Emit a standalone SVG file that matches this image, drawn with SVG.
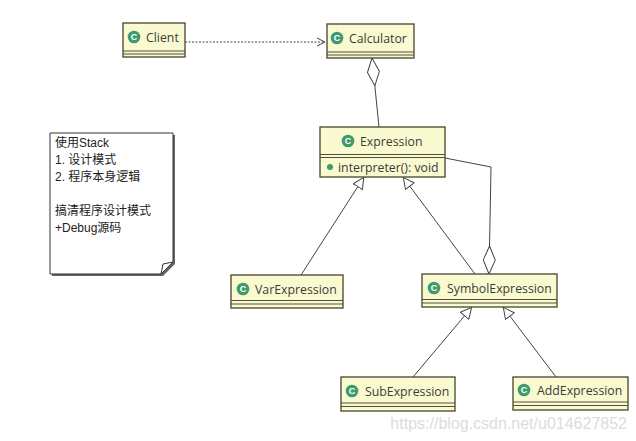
<svg xmlns="http://www.w3.org/2000/svg" width="636" height="441" viewBox="0 0 636 441">
<style>
.box{fill:#fafad0;stroke:#55503a;stroke-width:1.4}
.sep{stroke:#55503a;stroke-width:1.1}
.lbl{font-family:"Open Sans","Liberation Sans",sans-serif;font-size:12.3px;fill:#3a3a3a}
.ic{fill:#3f9a6c}
.icl{font-family:"Liberation Sans",sans-serif;font-size:9px;font-weight:bold;fill:#fff}
.ln{fill:none;stroke:#444;stroke-width:1}
.note{font-family:"Liberation Sans","Noto Sans CJK SC",sans-serif;font-size:12px;fill:#222}
</style>
<defs>
<marker id="tri" markerUnits="userSpaceOnUse" viewBox="0 0 12 12" refX="12" refY="6" markerWidth="12" markerHeight="12" orient="auto">
<path d="M0.5,0.5 L11.5,6 L0.5,11.5 z" fill="#fff" stroke="#444" stroke-width="1"/>
</marker>
<marker id="dia" markerUnits="userSpaceOnUse" viewBox="0 0 29 13" refX="28.5" refY="6.5" markerWidth="29" markerHeight="13" orient="auto">
<path d="M0.5,6.5 L14.5,0.5 L28.5,6.5 L14.5,12.5 z" fill="#fff" stroke="#444" stroke-width="1"/>
</marker>
<marker id="open" markerUnits="userSpaceOnUse" viewBox="0 0 10 10" refX="9" refY="5" markerWidth="10" markerHeight="10" orient="auto">
<path d="M1,1 L9,5 L1,9" fill="none" stroke="#444" stroke-width="1"/>
</marker>
</defs>
<g id="connectors">
<path class="ln" d="M185,42 L325,42" stroke-dasharray="2,1.5" marker-end="url(#open)"/>
<path class="ln" d="M379,127 L372,58" marker-end="url(#dia)"/>
<path class="ln" d="M301,275 L364,177" marker-end="url(#tri)"/>
<path class="ln" d="M475,274 L403,177" marker-end="url(#tri)"/>
<path class="ln" d="M445,158 L491,167 L489,274" marker-end="url(#dia)"/>
<path class="ln" d="M413,377 L472,307" marker-end="url(#tri)"/>
<path class="ln" d="M556,377 L503,307" marker-end="url(#tri)"/>
</g>
<g id="client">
<rect class="box" x="123" y="23" width="62" height="34"/>
<line class="sep" x1="123" y1="51" x2="185" y2="51"/>
<line class="sep" x1="123" y1="54" x2="185" y2="54"/>
<circle class="ic" cx="134" cy="37" r="6.3"/><text class="icl" x="134" y="40.2" text-anchor="middle">C</text>
<text class="lbl" x="146" y="41.5">Client</text>
</g>
<g id="calculator">
<rect class="box" x="327" y="24" width="87" height="34"/>
<line class="sep" x1="327" y1="52" x2="414" y2="52"/>
<line class="sep" x1="327" y1="55" x2="414" y2="55"/>
<circle class="ic" cx="337" cy="38" r="6.3"/><text class="icl" x="337" y="41.2" text-anchor="middle">C</text>
<text class="lbl" x="349" y="42.5">Calculator</text>
</g>
<g id="expression">
<rect class="box" x="320" y="127" width="125" height="50"/>
<line class="sep" x1="320" y1="154.5" x2="445" y2="154.5"/>
<line class="sep" x1="320" y1="157.5" x2="445" y2="157.5"/>
<circle class="ic" cx="348" cy="141" r="6.3"/><text class="icl" x="348" y="144.2" text-anchor="middle">C</text>
<text class="lbl" x="360" y="145.5">Expression</text>
<circle class="ic" cx="330" cy="167" r="3"/>
<text class="lbl" x="338" y="171.5">interpreter(): void</text>
</g>
<g id="varexpression">
<rect class="box" x="231" y="275" width="112" height="33"/>
<line class="sep" x1="231" y1="300.5" x2="343" y2="300.5"/>
<line class="sep" x1="231" y1="304" x2="343" y2="304"/>
<circle class="ic" cx="243" cy="289" r="6.3"/><text class="icl" x="243" y="292.2" text-anchor="middle">C</text>
<text class="lbl" x="255" y="293.5">VarExpression</text>
</g>
<g id="symbolexpression">
<rect class="box" x="422" y="274" width="135" height="33"/>
<line class="sep" x1="422" y1="299.5" x2="557" y2="299.5"/>
<line class="sep" x1="422" y1="303" x2="557" y2="303"/>
<circle class="ic" cx="434" cy="288" r="6.3"/><text class="icl" x="434" y="291.2" text-anchor="middle">C</text>
<text class="lbl" x="447" y="292.5">SymbolExpression</text>
</g>
<g id="subexpression">
<rect class="box" x="341" y="377" width="114" height="34"/>
<line class="sep" x1="341" y1="403" x2="455" y2="403"/>
<line class="sep" x1="341" y1="406.5" x2="455" y2="406.5"/>
<circle class="ic" cx="352" cy="391" r="6.3"/><text class="icl" x="352" y="394.2" text-anchor="middle">C</text>
<text class="lbl" x="365" y="395.5">SubExpression</text>
</g>
<g id="addexpression">
<rect class="box" x="513" y="377" width="115" height="33"/>
<line class="sep" x1="513" y1="402" x2="628" y2="402"/>
<line class="sep" x1="513" y1="405.5" x2="628" y2="405.5"/>
<circle class="ic" cx="524" cy="390" r="6.3"/><text class="icl" x="524" y="393.2" text-anchor="middle">C</text>
<text class="lbl" x="537" y="394.5">AddExpression</text>
</g>
<g id="note">
<path d="M52,135 L175,135 L175,264 L163,276 L52,276 z" fill="#666"/>
<path d="M50,133 L173,133 L173,262 L161,274 L50,274 z" fill="#fff" stroke="#333" stroke-width="1"/>
<path d="M161,274 L163,264 L173,262" fill="none" stroke="#333" stroke-width="1"/>
<text class="note" x="55" y="147">使用Stack</text>
<text class="note" x="55" y="164">1. 设计模式</text>
<text class="note" x="55" y="181">2. 程序本身逻辑</text>
<text class="note" x="55" y="215">搞清程序设计模式</text>
<text class="note" x="55" y="232">+Debug源码</text>
</g>
<text x="627" y="429" text-anchor="end" font-family="Liberation Sans,Arial,sans-serif" font-size="16px" fill="#dcdcdc">https://blog.csdn.net/u014627852</text>
</svg>
